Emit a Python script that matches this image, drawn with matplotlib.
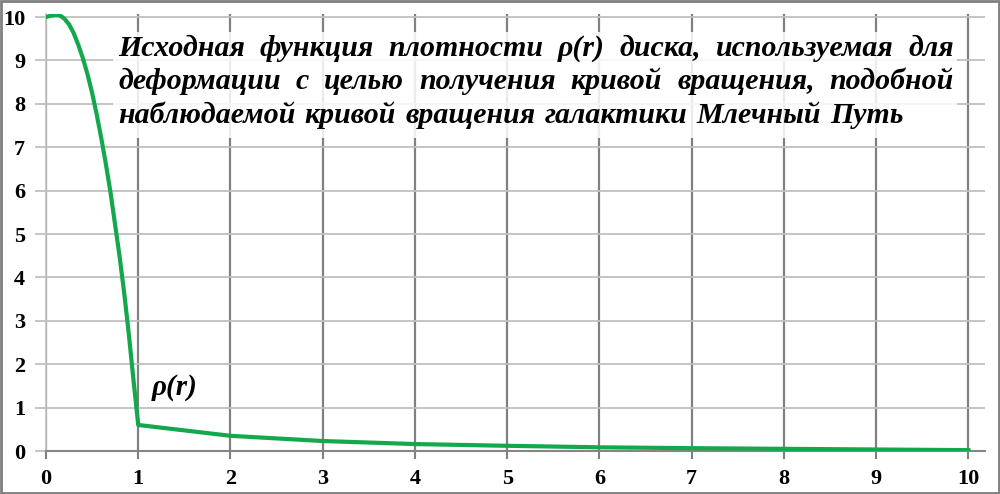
import matplotlib
matplotlib.use("Agg")
import matplotlib.pyplot as plt
from matplotlib.patches import Rectangle

# исходная функция плотности диска
r_vals = [0, 0.05, 0.1, 0.15, 0.2, 0.25, 0.3, 0.35, 0.4, 0.45, 0.5, 0.55,
          0.6, 0.65, 0.7, 0.75, 0.8, 0.85, 0.9, 0.95, 1.0,
          2, 3, 4, 5, 6, 7, 8, 9, 10]
rho_vals = [10.0, 10.03, 10.05, 10.04, 9.96, 9.83, 9.63, 9.36, 9.05, 8.68, 8.25, 7.75,
            7.2, 6.6, 5.95, 5.2, 4.45, 3.6, 2.65, 1.6, 0.6,
            0.35, 0.23, 0.16, 0.12, 0.085, 0.065, 0.05, 0.035, 0.02]

x_ticks = list(range(0, 11))
y_ticks = list(range(0, 11))

title_lines = [
    "Исходная функция плотности ρ(r) диска, используемая для",
    "деформации с целью получения кривой вращения, подобной",
    "наблюдаемой кривой вращения галактики Млечный Путь",
]
curve_label = "ρ(r)"

W, H = 1000, 494
fig = plt.figure(figsize=(W / 100, H / 100), dpi=100)
ax = fig.add_axes([0.046, 1 - 451 / H, 0.939, 437 / H])

ax.plot(r_vals, rho_vals, color="#13a84c", lw=3.0, zorder=4, solid_joinstyle="round")

ax.set_xlim(0, 10.18)
ax.set_ylim(0, 10.07)
ax.set_xticks(x_ticks)
ax.set_yticks(y_ticks)

for s in ["top", "right"]:
    ax.spines[s].set_visible(False)
ax.spines["left"].set_color("#c0c0c0")
ax.spines["left"].set_linewidth(1.2)
ax.spines["bottom"].set_color("#868686")
ax.spines["bottom"].set_linewidth(1.5)

ax.grid(axis="x", color="#808080", lw=1.6, zorder=1)
ax.grid(axis="y", color="#c0c0c0", lw=1.3, zorder=1)

ax.tick_params(axis="x", length=6, width=1.5, color="#808080", pad=7)
ax.tick_params(axis="y", length=8, width=1.3, color="#c0c0c0", pad=7)
for lab in ax.get_xticklabels() + ax.get_yticklabels():
    lab.set_fontfamily("Liberation Serif")
    lab.set_fontweight("bold")
    lab.set_fontsize(16)

ax.text(1.15, 1.29, curve_label, fontfamily="Liberation Serif", fontweight="bold",
        fontstyle="italic", fontsize=21, va="baseline", ha="left", zorder=5)

# полупрозрачная подложка под надписью
box = Rectangle((113 / W, 1 - 138 / H), 844 / W, 106 / H, transform=fig.transFigure,
                facecolor="white", edgecolor="none", alpha=0.85, zorder=2)
ax.add_patch(box)

# рамка вокруг всего рисунка
fig.patches.append(Rectangle((0.001, 0.002), 0.998, 0.996, transform=fig.transFigure,
                             fill=False, edgecolor="#7f7f7f", lw=2))

title_font = dict(family="Liberation Serif", weight="bold", style="italic", size=21.5)
fig.canvas.draw()
rend = fig.canvas.get_renderer()


def text_width(s):
    t = fig.text(0, 0, s, **title_font)
    w = t.get_window_extent(rend).width
    t.remove()
    return w


left_px = 118
right_px = [954, 954, 904]
baselines = [56, 89, 123]
for i, line in enumerate(title_lines):
    yb = 1 - baselines[i] / H
    words = line.split()
    widths = [text_width(w) for w in words]
    gap = (right_px[i] - left_px - sum(widths)) / (len(words) - 1)
    x = left_px
    for w, wd in zip(words, widths):
        fig.text(x / W, yb, w, va="baseline", ha="left", zorder=6, **title_font)
        x += wd + gap

fig.savefig("out.png", dpi=100)
